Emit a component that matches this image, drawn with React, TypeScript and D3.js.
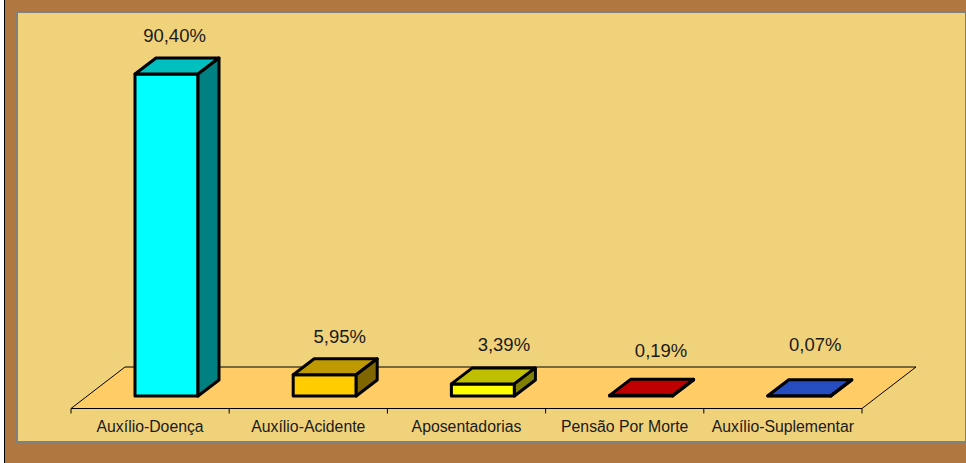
import React from 'react';
import * as d3 from 'd3';

const categories = ['Auxílio-Doença', 'Auxílio-Acidente', 'Aposentadorias', 'Pensão Por Morte', 'Auxílio-Suplementar'];
const values = [90.4, 5.95, 3.39, 0.19, 0.07];
const valueLabels = ['90,40%', '5,95%', '3,39%', '0,19%', '0,07%'];
const barColors = ['#00ffff', '#ffcc00', '#ffff00', '#ff0000', '#3366ff'];

// hand placed offsets of the value labels, the original chart moved them around
const labelDx = [8, 15, 21, 20, 16];
const labelDy = [-32, -32, -33, -38, -45];

const width = 966;
const height = 463;
const floorY = 408.5;
const baseY = 396;
const depthX = 21;
const depthY = 16;
const floorDX = 54;
const floorDY = 41.5;
const barInset = 64;
const barWidth = 63;

const shade = (c: string, k: number) => {
  const r = d3.rgb(c);
  return d3.rgb(r.r * k, r.g * k, r.b * k).formatHex();
};

function App() {
  const x = d3.scaleBand<string>().domain(categories).range([71, 862]);
  const y = d3.scaleLinear().domain([0, 90.4]).range([baseY, 74]);
  const poly = d3.line();

  const floor = poly([
    [71, floorY],
    [862, floorY],
    [862 + floorDX, floorY - floorDY],
    [71 + floorDX, floorY - floorDY],
  ]) + 'Z';

  const ticks = categories.map((c) => x(c) as number).concat(862);

  return (
    <svg
      width={width}
      height={height}
      style={{ position: 'absolute', left: 0, top: 0, display: 'block', fontFamily: '"Liberation Sans", Arial, sans-serif' }}
    >
      <rect x={0} y={0} width={width} height={height} fill="#b07840" />
      <rect x={0} y={0} width={4} height={height} fill="#ffffff" />
      <rect x={4} y={0} width={1} height={height} fill="#000000" />
      <rect x={17} y={12} width={width - 17} height={430} fill="#f0d27a" stroke="#808080" strokeWidth={2} />

      <path d={floor} fill="#ffcc66" stroke="#000000" strokeWidth={1} />
      {ticks.map((t, i) => (
        <line key={i} x1={t} x2={t} y1={floorY} y2={floorY + 5} stroke="#000000" strokeWidth={1} />
      ))}

      {categories.map((c, i) => {
        const x0 = (x(c) as number) + barInset;
        const x1 = x0 + barWidth;
        const top = y(values[i]);
        return (
          <g key={c} stroke="#000000" strokeWidth={3} strokeLinejoin="round">
            <path
              d={poly([[x0, baseY], [x1, baseY], [x1, top], [x0, top]]) + 'Z'}
              fill={barColors[i]}
            />
            <path
              d={poly([[x0, top], [x1, top], [x1 + depthX, top - depthY], [x0 + depthX, top - depthY]]) + 'Z'}
              fill={shade(barColors[i], 0.75)}
            />
            <path
              d={poly([[x1, baseY], [x1 + depthX, baseY - depthY], [x1 + depthX, top - depthY], [x1, top]]) + 'Z'}
              fill={shade(barColors[i], 0.5)}
            />
          </g>
        );
      })}

      {categories.map((c) => (
        <text
          key={c}
          x={(x(c) as number) + x.bandwidth() / 2}
          y={432}
          textAnchor="middle"
          fontSize={15.8}
          fill="#1a1a1a"
        >
          {c}
        </text>
      ))}

      {categories.map((c, i) => (
        <text
          key={c}
          x={(x(c) as number) + barInset + barWidth / 2 + labelDx[i]}
          y={y(values[i]) + labelDy[i]}
          textAnchor="middle"
          fontSize={18.5}
          fill="#1a1a1a"
        >
          {valueLabels[i]}
        </text>
      ))}
    </svg>
  );
}

export default App;
